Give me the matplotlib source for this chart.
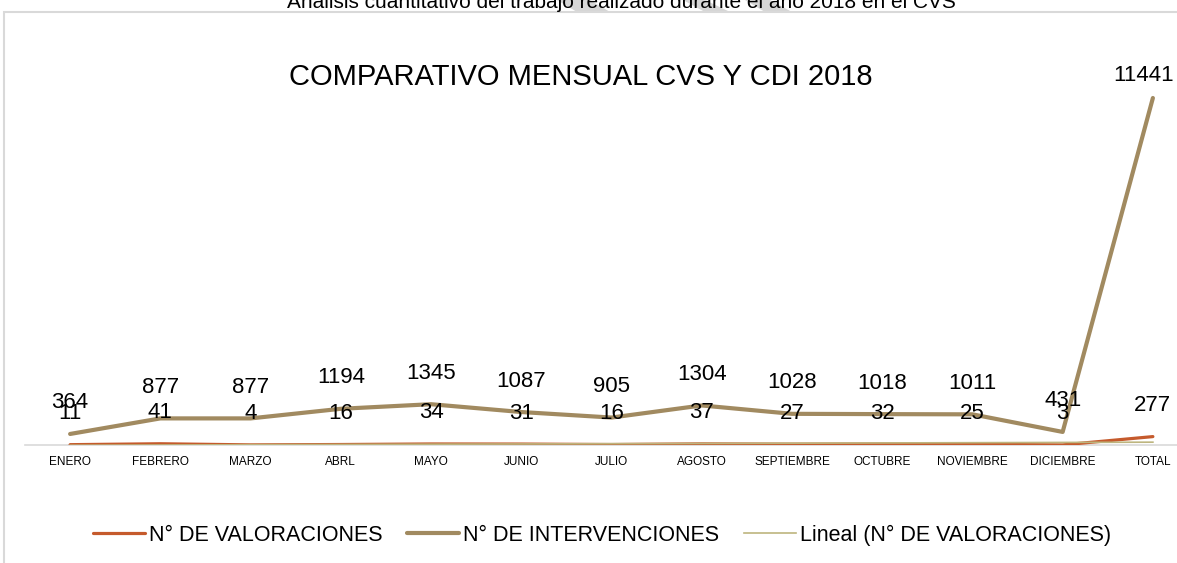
import numpy as np
import matplotlib
matplotlib.use("Agg")
import matplotlib.pyplot as plt
from matplotlib.patches import Rectangle, Polygon

plt.rcParams['font.family'] = ['Liberation Sans', 'DejaVu Sans']

# Data
meses = ['ENERO', 'FEBRERO', 'MARZO', 'ABRL', 'MAYO', 'JUNIO', 'JULIO',
         'AGOSTO', 'SEPTIEMBRE', 'OCTUBRE', 'NOVIEMBRE', 'DICIEMBRE', 'TOTAL']
valoraciones = [11, 41, 4, 16, 34, 31, 16, 37, 27, 32, 25, 3, 277]
intervenciones = [364, 877, 877, 1194, 1345, 1087, 905, 1304, 1028, 1018, 1011, 431, 11441]

c_val = '#C55A2C'
c_int = '#A18A60'
c_lin = '#BDB57E'

W, H = 1177, 563
fig = plt.figure(figsize=(W / 100, H / 100), dpi=100)

def fx(px):
    return px / W

def fy(py):
    return 1 - py / H

# faint watermark stripes above the chart frame
for (a, b, c, d) in [(557, 590, 610, 577), (683, 705, 730, 705), (745, 770, 792, 765)]:
    fig.patches.append(Polygon([(fx(a), fy(0)), (fx(b), fy(0)),
                                (fx(c), fy(12)), (fx(d), fy(12))],
                               closed=True, transform=fig.transFigure,
                               facecolor='#d6d6d6', edgecolor='none', zorder=0))

# outer frame of the embedded chart (cropped on right/bottom)
fig.patches.append(Rectangle((fx(4), -0.1), 1.2, fy(12) + 0.1,
                             transform=fig.transFigure, fill=False,
                             edgecolor='#d9d9d9', linewidth=1.5))

# header text, cut at the top edge as in the source
fig.text(fx(621), fy(3),
         'Análisis cuantitativo del trabajo realizado durante el año 2018 en el CVS',
         ha='center', va='center', fontsize=15, color='black')

x0_px, x1_px = 25, 1198
y0_px = 445
ymax = 14000
px_per_unit = (445 - 98) / 11441
ax = fig.add_axes([fx(x0_px), fy(y0_px), (x1_px - x0_px) / W,
                   ymax * px_per_unit / H])
ax.set_xlim(-0.5, 12.5)
ax.set_ylim(0, ymax)

x = np.arange(len(meses))
ax.plot(x, valoraciones, color=c_val, linewidth=2.3, solid_capstyle='round',
        label='N° DE VALORACIONES', zorder=3)
ax.plot(x, intervenciones, color=c_int, linewidth=3, solid_capstyle='round',
        label='N° DE INTERVENCIONES', zorder=2)
coef = np.polyfit(x, valoraciones, 1)
ax.plot(x, np.polyval(coef, x), color=c_lin, linewidth=1.2,
        label='Lineal (N° DE VALORACIONES)', zorder=4)

for xi, v in zip(x, intervenciones):
    if v > 5000:
        xy_off = (-9, 22)
    else:
        xy_off = (0, 31)
    ax.annotate(str(v), (xi, v), xytext=xy_off, textcoords='offset pixels',
                ha='center', va='center', fontsize=16)
for xi, v in zip(x, valoraciones):
    ax.annotate(str(v), (xi, v), xytext=(0, 31), textcoords='offset pixels',
                ha='center', va='center', fontsize=16)

fig.text(fx(581), fy(77), 'COMPARATIVO MENSUAL CVS Y CDI 2018',
         ha='center', va='center', fontsize=21)

for s in ('top', 'right', 'left'):
    ax.spines[s].set_visible(False)
ax.spines['bottom'].set_color('#d9d9d9')
ax.spines['bottom'].set_linewidth(1.2)
ax.set_yticks([])
ax.set_xticks(x)
ax.set_xticklabels(meses, fontsize=8.5)
ax.tick_params(axis='x', length=0, pad=8)
ax.patch.set_alpha(0)

fig.legend(loc='center', bbox_to_anchor=(fx(602), fy(535)), ncol=3,
           frameon=False, fontsize=15.5, handlelength=2.4, handletextpad=0.2,
           columnspacing=1.15)

fig.savefig('out.png', dpi=100)
